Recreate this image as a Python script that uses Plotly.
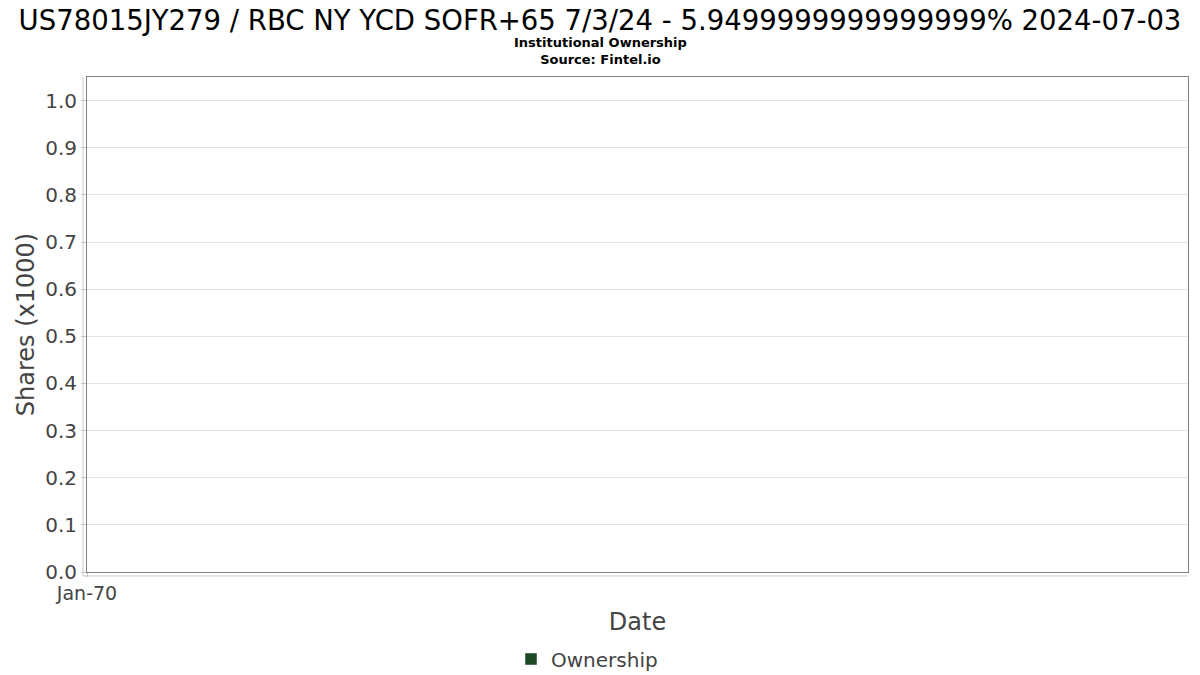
import plotly.graph_objects as go

# chart data: one date at the epoch with no recorded holdings
dates = ['1970-01-01']
shares = [None]
tick_vals = ['1970-01-01']
tick_text = ['Jan-70']
y_ticks = [0.0, 0.1, 0.2, 0.3, 0.4, 0.5, 0.6, 0.7, 0.8, 0.9, 1.0]

title = 'US78015JY279 / RBC NY YCD SOFR+65 7/3/24 - 5.9499999999999999% 2024-07-03'
subtitle = '<b>Institutional Ownership</b><br><b>Source: Fintel.io</b>'

fig = go.Figure()

fig.add_trace(go.Bar(
    x=dates,
    y=shares,
    name='Ownership',
    marker_color='#1d4a26',
    showlegend=True,
))

fig.update_layout(
    width=1200,
    height=675,
    plot_bgcolor='white',
    paper_bgcolor='white',
    font=dict(family='DejaVu Sans', color='#444444'),
    margin=dict(l=87, r=12, t=77, b=103, autoexpand=False),
    showlegend=True,
    title=dict(text=title, x=0.5, xanchor='center', xref='container',
               y=1 - 20 / 675, yanchor='middle', yref='container',
               font=dict(size=27.5, color='black')),
    legend=dict(
        orientation='h',
        xref='container', yref='container',
        x=511 / 1200, xanchor='left',
        y=1 - 659 / 675, yanchor='middle',
        font=dict(size=20, color='#444444'),
        itemwidth=30,
    ),
    annotations=[
        dict(text=subtitle, x=(600 - 87) / 1101, y=(572 - 51) / 495,
             xref='paper', yref='paper',
             xanchor='center', yanchor='middle', showarrow=False,
             font=dict(size=13, color='black')),
    ],
)

fig.update_xaxes(
    type='date',
    range=['1970-01-01', '1970-01-20'],
    tickvals=tick_vals,
    ticktext=tick_text,
    tickfont=dict(size=19, color='#444444'),
    ticks='outside', ticklen=4, tickcolor='#c8c8c8',
    showgrid=False,
    showline=True, linecolor='#808080', linewidth=1, mirror=True,
    zeroline=False,
    title=dict(text='Date', font=dict(size=24, color='#444444'), standoff=10),
)

fig.update_yaxes(
    range=[0, 1.05],
    tickvals=y_ticks,
    ticktext=['%.1f' % v for v in y_ticks],
    tickfont=dict(size=20, color='#444444'),
    ticks='outside', ticklen=5, tickcolor='#c8c8c8',
    showgrid=True, gridcolor='#e3e3e3',
    showline=True, linecolor='#808080', linewidth=1, mirror=True,
    zeroline=False,
    title=dict(text='Shares (x1000)', font=dict(size=24, color='#444444'), standoff=3),
)

# light axis lines drawn just outside the frame
fig.add_shape(type='line', xref='paper', yref='paper',
              x0=-0.0036, x1=-0.0036, y0=-0.008, y1=1,
              line=dict(color='#c8c8c8', width=1))
fig.add_shape(type='line', xref='paper', yref='paper',
              x0=-0.0036, x1=1, y0=-0.008, y1=-0.008,
              line=dict(color='#c8c8c8', width=1))

fig.write_html('out.html', config={'displayModeBar': False},
               post_script="document.body.style.margin='0';")
